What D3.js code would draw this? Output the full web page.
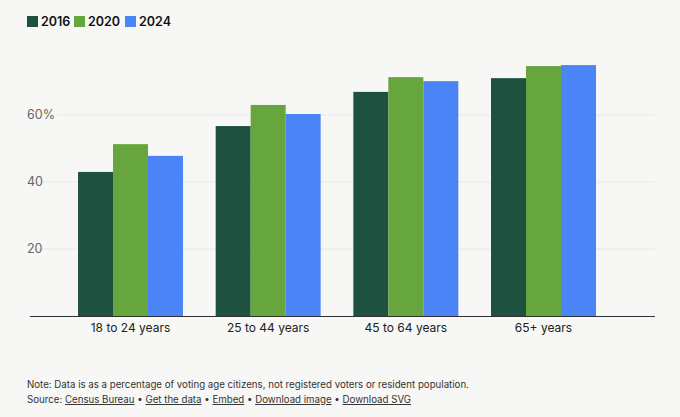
<!DOCTYPE html>
<html><head><meta charset="utf-8">
<script src="https://cdn.jsdelivr.net/npm/d3@7"></script>
<style>
body{margin:0;background:#f7f7f5;font-family:Inter,"Noto Sans",sans-serif;}
</style></head>
<body><svg id="chart" width="680" height="417"></svg>
<script>
const groups = ["18 to 24 years", "25 to 44 years", "45 to 64 years", "65+ years"];
const years = ["2016", "2020", "2024"];
const colors = ["#1f5140", "#66a63d", "#4a84f6"];
const v2016 = [43.0, 56.7, 66.9, 71.0];
const v2020 = [51.3, 63.0, 71.3, 74.6];
const v2024 = [47.8, 60.3, 70.1, 74.9];
const ticks = [20, 40, 60];

const series = [v2016, v2020, v2024];
const svg = d3.select("#chart");

const y = d3.scaleLinear().domain([0, 80]).range([316, 48]);
const x0 = d3.scaleBand().domain(groups).range([50.5, 623.5]).paddingInner(0.2375).paddingOuter(0.2);
const x1 = d3.scaleBand().domain(years).range([0, x0.bandwidth()]);

// grid
svg.selectAll("line.grid").data(ticks).enter().append("line")
  .attr("x1", d => d === 60 ? 57 : 33).attr("x2", 655)
  .attr("y1", d => y(d)).attr("y2", d => y(d))
  .attr("stroke", "#e8e8e6");

svg.selectAll("text.tick").data(ticks).enter().append("text")
  .attr("x", 27).attr("y", d => y(d) + 4)
  .attr("font-size", 12.5).attr("fill", "#666")
  .text(d => d === 60 ? "60%" : d);

// bars
groups.forEach((g, i) => {
  years.forEach((yr, j) => {
    svg.append("rect")
      .attr("x", x0(g) + x1(yr))
      .attr("y", y(series[j][i]))
      .attr("width", x1.bandwidth())
      .attr("height", y(0) - y(series[j][i]))
      .attr("fill", colors[j]);
  });
});

svg.append("line").attr("x1", 30).attr("x2", 655).attr("y1", 316.5).attr("y2", 316.5)
  .attr("stroke", "#333").attr("stroke-width", 1);

svg.selectAll("text.cat").data(groups).enter().append("text")
  .attr("x", d => x0(d) + x0.bandwidth() / 2).attr("y", 332)
  .attr("text-anchor", "middle").attr("font-size", 12).attr("fill", "#222")
  .text(d => d);

// legend
const lg = svg.append("g").attr("transform", "translate(27,16)");
const legendX = [0, 47, 98];
years.forEach((yr, j) => {
  lg.append("rect").attr("x", legendX[j]).attr("y", 0).attr("width", 11).attr("height", 11)
    .attr("fill", colors[j]);
  lg.append("text").attr("x", legendX[j] + 14).attr("y", 10).attr("font-size", 12.5)
    .attr("font-weight", 600).attr("fill", "#111").text(yr);
});

// footer
svg.append("text").attr("x", 27).attr("y", 388).attr("font-size", 9.7).attr("fill", "#333")
  .text("Note: Data is as a percentage of voting age citizens, not registered voters or resident population.");
const src = svg.append("text").attr("x", 27).attr("y", 403).attr("font-size", 9.7).attr("fill", "#333");
src.append("tspan").text("Source: ");
const links = ["Census Bureau", "Get the data", "Embed", "Download image", "Download SVG"];
links.forEach((l, i) => {
  src.append("tspan").attr("text-decoration", "underline").text(l);
  if (i < links.length - 1) src.append("tspan").text(i === 2 ? "  •  " : " • ");
});
</script></body></html>
